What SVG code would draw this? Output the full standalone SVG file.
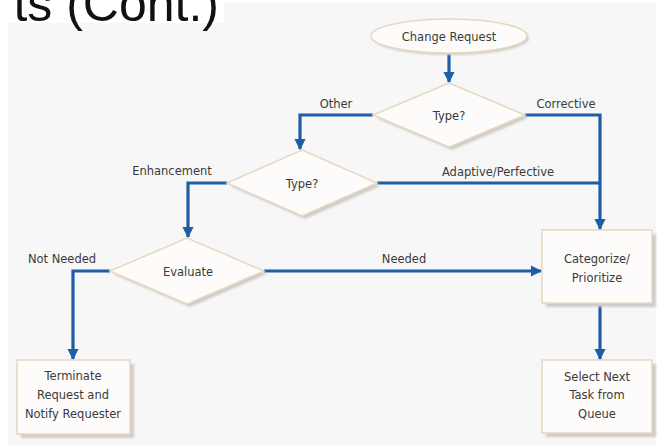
<svg xmlns="http://www.w3.org/2000/svg" width="658" height="447" viewBox="0 0 658 447">
  <defs>
    <marker id="arrow" viewBox="0 0 10 10" refX="9" refY="5" markerWidth="3.6" markerHeight="3.6" orient="auto" markerUnits="strokeWidth">
      <path d="M0,0 L10,5 L0,10 Z" fill="#1d5ea6"/>
    </marker>
    <filter id="soft" x="-10%" y="-10%" width="130%" height="130%">
      <feGaussianBlur stdDeviation="1.2"/>
    </filter>
  </defs>
  <style>
    .panel { fill: #f7f7f7; }
    .shape { fill: #fdfcfa; stroke: #e6d8c2; stroke-width: 1.5; }
    .shadow { fill: #cfccc8; filter: url(#soft); }
    .flow { fill: none; stroke: #1d5ea6; stroke-width: 3.2; stroke-linejoin: miter; }
    .lbl { font-family: "DejaVu Sans", "Liberation Sans", sans-serif; font-size: 11.5px; fill: #3a3a3a; text-anchor: middle; }
    .title { font-family: "Liberation Sans", Arial, sans-serif; font-size: 50px; fill: #111; }
  </style>

  <!-- background panel and heading -->
  <rect class="panel" x="8" y="3" width="648" height="442"/>
  <rect x="0" y="0" width="224" height="23" fill="#ffffff"/>
  <text class="title" x="219" y="21" text-anchor="end">ts (Cont.)</text>

  <!-- connectors -->
  <g id="connectors">
    <path class="flow" d="M449,54 V82" marker-end="url(#arrow)"/>
    <path class="flow" d="M373,115 H300 V149" marker-end="url(#arrow)"/>
    <path class="flow" d="M525,115 H600 V229" marker-end="url(#arrow)"/>
    <path class="flow" d="M227,183 H188 V237" marker-end="url(#arrow)"/>
    <path class="flow" d="M377,183 H600"/>
    <path class="flow" d="M110,271 H73 V359" marker-end="url(#arrow)"/>
    <path class="flow" d="M264,271 H541" marker-end="url(#arrow)"/>
    <path class="flow" d="M600,304 V359" marker-end="url(#arrow)"/>
    <text class="lbl" x="336" y="108">Other</text>
    <text class="lbl" x="566" y="108">Corrective</text>
    <text class="lbl" x="172" y="175">Enhancement</text>
    <text class="lbl" x="498" y="176">Adaptive/Perfective</text>
    <text class="lbl" x="62" y="263">Not Needed</text>
    <text class="lbl" x="404" y="263">Needed</text>
  </g>

  <!-- start -->
  <g id="change-request">
    <ellipse class="shadow" cx="451" cy="38" rx="78" ry="17"/>
    <ellipse class="shape" cx="449" cy="36" rx="78" ry="17"/>
    <text class="lbl" x="449" y="41">Change Request</text>
  </g>

  <!-- decisions -->
  <g id="type-1">
    <polygon class="shadow" points="376,118 452,86 528,118 452,150"/>
    <polygon class="shape" points="373,115 449,83 525,115 449,147"/>
    <text class="lbl" x="449" y="120">Type?</text>
  </g>
  <g id="type-2">
    <polygon class="shadow" points="230,186 305,153 380,186 305,219"/>
    <polygon class="shape" points="227,183 302,150 377,183 302,216"/>
    <text class="lbl" x="302" y="188">Type?</text>
  </g>
  <g id="evaluate">
    <polygon class="shadow" points="113,274 190,241 267,274 190,307"/>
    <polygon class="shape" points="110,271 187,238 264,271 187,304"/>
    <text class="lbl" x="188" y="276">Evaluate</text>
  </g>

  <!-- process boxes -->
  <g id="categorize">
    <rect class="shadow" x="546" y="234" width="110" height="73"/>
    <rect class="shape" x="542" y="230" width="110" height="73"/>
    <text class="lbl" x="597" y="263">Categorize/</text>
    <text class="lbl" x="597" y="282">Prioritize</text>
  </g>
  <g id="select-next">
    <rect class="shadow" x="546" y="364" width="110" height="73"/>
    <rect class="shape" x="542" y="360" width="110" height="73"/>
    <text class="lbl" x="597" y="381">Select Next</text>
    <text class="lbl" x="597" y="399">Task from</text>
    <text class="lbl" x="597" y="418">Queue</text>
  </g>
  <g id="terminate">
    <rect class="shadow" x="21" y="364" width="113" height="74"/>
    <rect class="shape" x="17" y="360" width="113" height="74"/>
    <text class="lbl" x="73" y="380">Terminate</text>
    <text class="lbl" x="73" y="399">Request and</text>
    <text class="lbl" x="73" y="418">Notify Requester</text>
  </g>
</svg>
